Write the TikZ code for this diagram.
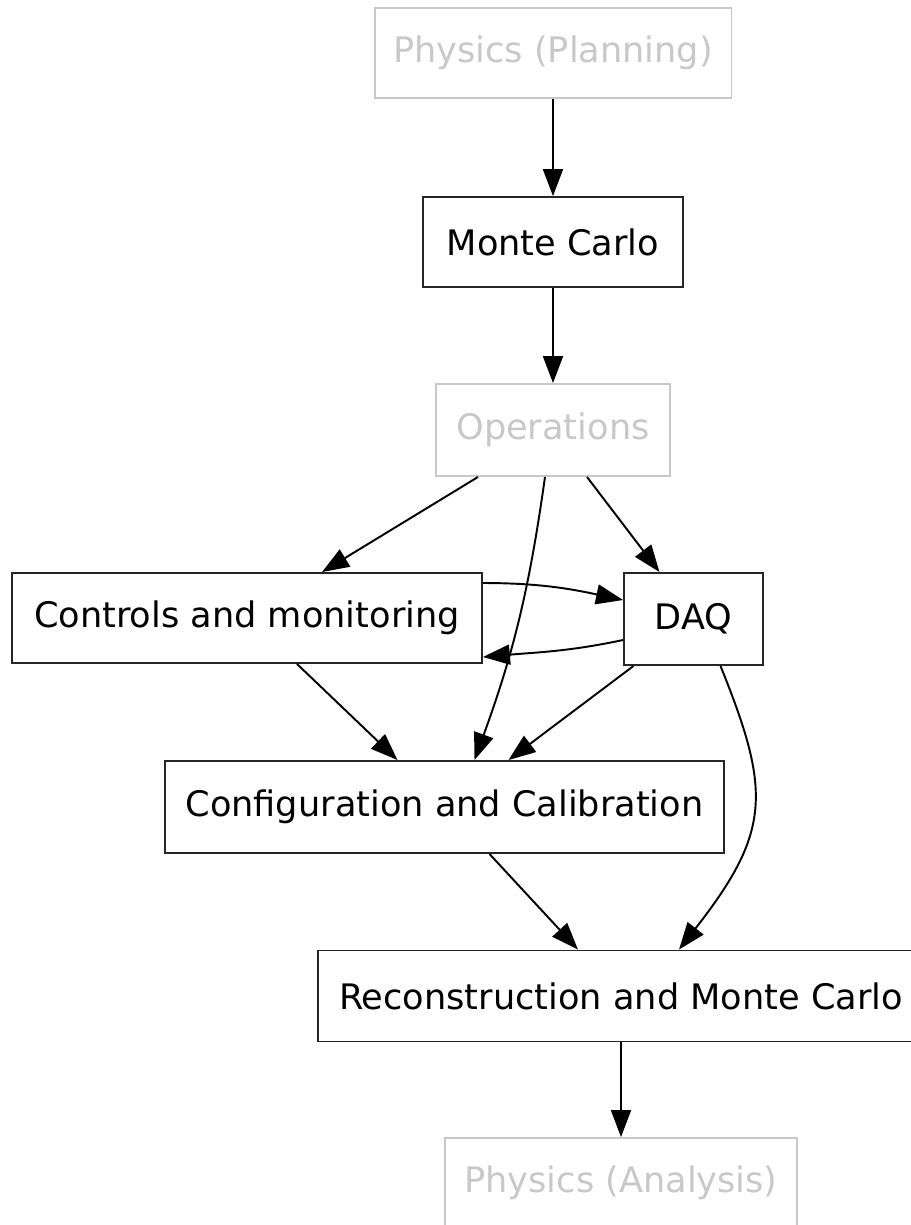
\documentclass[tikz,border=0pt]{standalone}
\usepackage{fontspec}
\setmainfont{DejaVu Sans}
\usepackage{tikz}
\usetikzlibrary{arrows.meta,calc}
\definecolor{paleline}{RGB}{200,200,200}

\begin{document}
\begin{tikzpicture}[x=0.02cm, y=0.02cm,
        every node/.style = {font=\fontsize{20}{24}\selectfont},
        box/.style = {rectangle, draw=black!85, line width=1.1pt, inner sep=0pt, minimum height=1.8cm},
        ghost/.style = {box, draw=paleline, text=paleline},
        edge/.style = {line width=1.1pt, -{Triangle[length=0.54cm, width=0.4cm]}}]
    \useasboundingbox (0,0) rectangle (911,-1225);

    \node[ghost, minimum width=7.14cm] (planning) at (553,-53) {Physics (Planning)};
    \node[box, minimum width=5.2cm] (mc) at (553,-242) {Monte Carlo};
    \node[ghost, minimum width=4.68cm, minimum height=1.84cm] (ops) at (553,-430) {Operations};
    \node[box, minimum width=9.4cm] (ctrl) at (247,-618) {Controls and monitoring};
    \node[box, minimum width=2.78cm, minimum height=1.84cm] (daq) at (693.5,-619) {DAQ};
    \node[box, minimum width=11.18cm, minimum height=1.84cm] (conf) at (444.5,-807) {Configuration and Calibration};
    \node[box, minimum width=12.12cm, minimum height=1.82cm] (reco) at (621,-996) {Reconstruction and Monte Carlo};
    \node[ghost, minimum width=7.04cm] (ana) at (621,-1183) {Physics (Analysis)};

    \draw[edge] (planning) -- (mc);
    \draw[edge] (mc) -- (ops);
    \draw[edge] ($(ops.south)+(-75,0)$) -- ($(ctrl.north)+(75,0)$);
    \draw[edge] ($(ops.south)+(-8,0)$) to[out=-98, in=70] ($(conf.north)+(30,0)$);
    \draw[edge] ($(ops.south)+(34,0)$) -- ($(daq.north)+(-34,0)$);
    \draw[edge] ($(ctrl.east)+(0,35)$) to[out=0, in=168] ($(daq.west)+(0,19)$);
    \draw[edge] ($(daq.west)+(0,-21)$) to[out=192, in=5] ($(ctrl.east)+(0,-39)$);
    \draw[edge] ($(ctrl.south)+(50,0)$) -- ($(conf.north)+(-47,0)$);
    \draw[edge] ($(daq.south)+(-60,0)$) -- ($(conf.north)+(64,0)$);
    \draw[edge] ($(daq.south)+(27,0)$) .. controls +(-68:135) and +(52:150) .. ($(reco.north)+(58,0)$);
    \draw[edge] ($(conf.south)+(45,0)$) -- ($(reco.north)+(-43,0)$);
    \draw[edge] (reco) -- (ana);
\end{tikzpicture}
\end{document}
